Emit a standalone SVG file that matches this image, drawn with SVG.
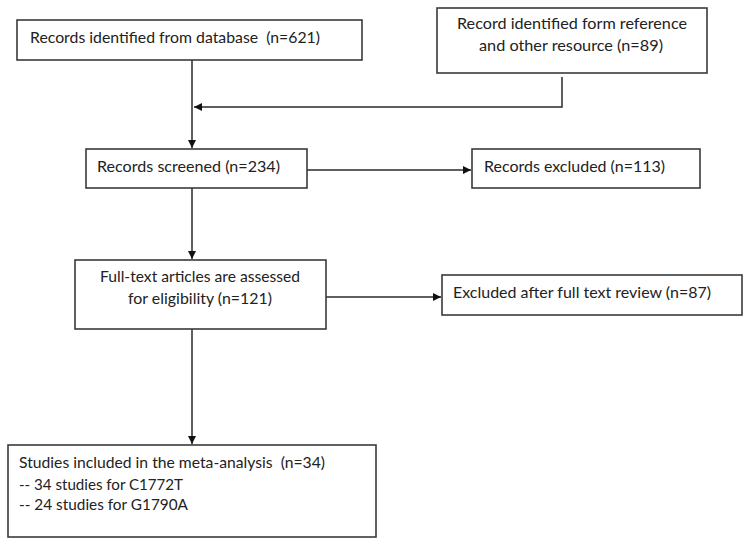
<svg xmlns="http://www.w3.org/2000/svg" width="750" height="546" viewBox="0 0 750 546">
<style>
.box{fill:#fff;stroke:#3a3a3a;stroke-width:1.6}
.t{font-family:Lato,"Open Sans","Liberation Sans",sans-serif;font-size:16px;fill:#222;white-space:pre}
.c{text-anchor:middle}
.ln{fill:none;stroke:#2a2a2a;stroke-width:1.5}
</style>
<defs>
<marker id="ah" viewBox="0 0 10 10" refX="10" refY="5" markerWidth="9" markerHeight="8" markerUnits="userSpaceOnUse" orient="auto">
<path d="M0,0 L10,5 L0,10 z" fill="#111"/>
</marker>
</defs>
<rect width="750" height="546" fill="#fff"/>
<g id="connectors">
<line class="ln" x1="192" y1="60" x2="192" y2="148" marker-end="url(#ah)"/>
<polyline class="ln" points="562,77 562,107 194,107" marker-end="url(#ah)"/>
<line class="ln" x1="307" y1="170" x2="471" y2="170" marker-end="url(#ah)"/>
<line class="ln" x1="192" y1="188" x2="192" y2="259" marker-end="url(#ah)"/>
<line class="ln" x1="326" y1="297" x2="441" y2="297" marker-end="url(#ah)"/>
<line class="ln" x1="192" y1="329" x2="192" y2="444" marker-end="url(#ah)"/>
</g>
<g id="n1">
<rect class="box" x="17" y="20" width="345" height="40"/>
<text class="t" x="30" y="43" textLength="290" lengthAdjust="spacingAndGlyphs" xml:space="preserve">Records identified from database  (n=621)</text>
</g>
<g id="n2">
<rect class="box" x="437" y="8" width="270" height="65"/>
<text class="t c" x="572" y="29" textLength="230" lengthAdjust="spacingAndGlyphs">Record identified form reference</text>
<text class="t c" x="571" y="51" textLength="184" lengthAdjust="spacingAndGlyphs">and other resource (n=89)</text>
</g>
<g id="n3">
<rect class="box" x="86" y="149" width="221" height="39"/>
<text class="t" x="97" y="172" textLength="183" lengthAdjust="spacingAndGlyphs">Records screened (n=234)</text>
</g>
<g id="n4">
<rect class="box" x="472" y="149" width="228" height="39"/>
<text class="t" x="484" y="172" textLength="181" lengthAdjust="spacingAndGlyphs">Records excluded (n=113)</text>
</g>
<g id="n5">
<rect class="box" x="75" y="260" width="251" height="69"/>
<text class="t c" x="200" y="282" textLength="200" lengthAdjust="spacingAndGlyphs">Full-text articles are assessed</text>
<text class="t c" x="200" y="304" textLength="144" lengthAdjust="spacingAndGlyphs">for eligibility (n=121)</text>
</g>
<g id="n6">
<rect class="box" x="442" y="275" width="300" height="40"/>
<text class="t" x="453" y="298" textLength="258" lengthAdjust="spacingAndGlyphs">Excluded after full text review (n=87)</text>
</g>
<g id="n7">
<rect class="box" x="8" y="445" width="368" height="92"/>
<text class="t" x="19" y="468" textLength="306" lengthAdjust="spacingAndGlyphs" xml:space="preserve">Studies included in the meta-analysis  (n=34)</text>
<text class="t" x="19" y="490" textLength="164" lengthAdjust="spacingAndGlyphs">-- 34 studies for C1772T</text>
<text class="t" x="19" y="510" textLength="169" lengthAdjust="spacingAndGlyphs">-- 24 studies for G1790A</text>
</g>
</svg>
